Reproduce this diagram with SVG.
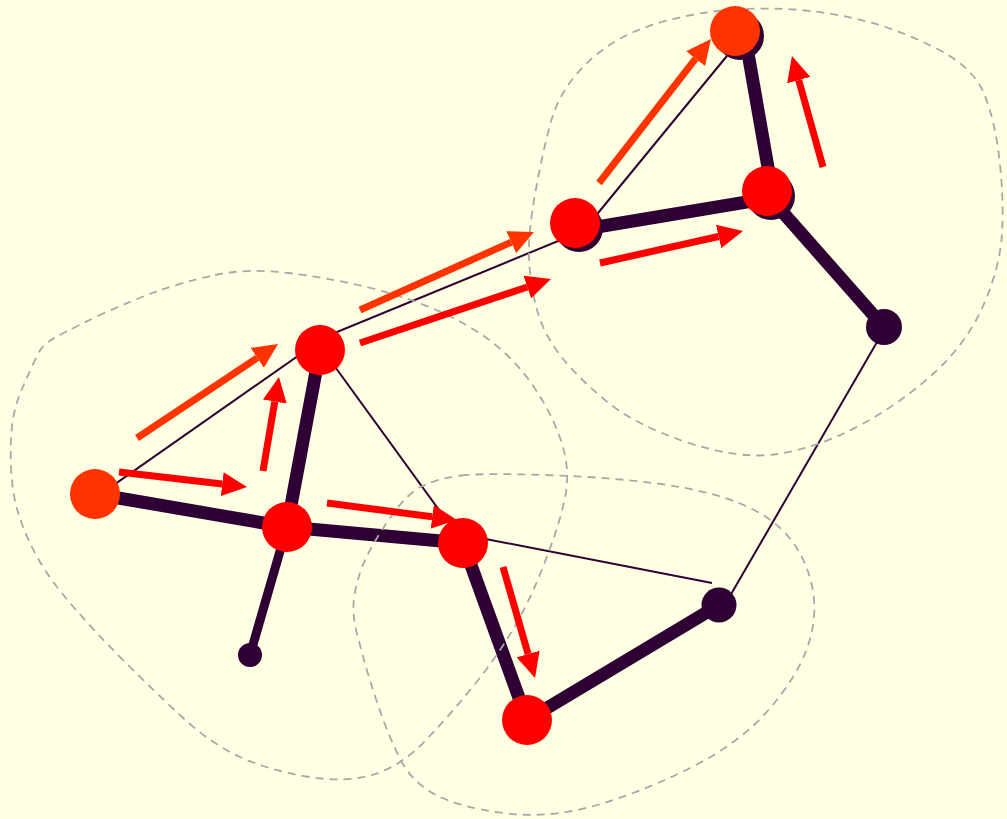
<svg xmlns="http://www.w3.org/2000/svg" width="1007" height="819" viewBox="0 0 1007 819">
<style>
.bg{fill:#ffffe3}
.blob{fill:none;stroke:#a8a8a8;stroke-width:1.8;stroke-dasharray:8 6}
.thin{stroke:#2e0033;stroke-width:2;fill:none}
.thick{stroke:#2e0033;stroke-width:13;fill:none}
.dark{fill:#2e0033}
.red{fill:#ff0000}
.orange{fill:#ff3300}
.ar{stroke:#ff0000;stroke-width:7;fill:none;marker-end:url(#hr)}
.ao{stroke:#ff3300;stroke-width:7;fill:none;marker-end:url(#ho)}
</style>
<defs>
<marker id="hr" markerUnits="userSpaceOnUse" markerWidth="26" markerHeight="24" refX="0" refY="12" orient="auto"><path d="M0,0 L25,12 L0,24 z" fill="#ff0000"/></marker>
<marker id="ho" markerUnits="userSpaceOnUse" markerWidth="26" markerHeight="24" refX="0" refY="12" orient="auto"><path d="M0,0 L25,12 L0,24 z" fill="#ff3300"/></marker>
</defs>
<rect class="bg" x="0" y="0" width="1007" height="819"/>
<g id="connectors">
<line class="thin" x1="100" y1="494.6" x2="320" y2="340.5"/>
<line class="thin" x1="320" y1="339" x2="580" y2="232"/>
<line class="thin" x1="580" y1="235" x2="740" y2="40"/>
<line class="thin" x1="325" y1="353" x2="463" y2="543"/>
<line class="thin" x1="465" y1="535" x2="712" y2="583"/>
<line class="thin" x1="730" y1="596" x2="884" y2="330"/>
<line class="thick" x1="95" y1="494" x2="287" y2="527"/>
<line class="thick" x1="287" y1="527" x2="463" y2="543"/>
<line class="thick" x1="320" y1="350" x2="287" y2="527"/>
<line class="thick" x1="287" y1="527" x2="250" y2="655" style="stroke-width:9"/>
<line class="thick" x1="463" y1="543" x2="527" y2="720"/>
<line class="thick" x1="527" y1="720" x2="719" y2="605"/>
<line class="thick" x1="771" y1="199" x2="884" y2="327"/>
<line class="thick" x1="579" y1="230" x2="771" y2="198"/>
<line class="thick" x1="745" y1="36" x2="773" y2="196"/>
</g>
<g id="regions">
<path class="blob" d="M215,275 Q247,268 288.5,273 Q330,278 368.5,287.5 Q407,297 438.5,311 Q470,325 492.5,342.5 Q515,360 532.5,385 Q550,410 560,437.5 Q570,465 566,492.5 Q561,520 547.5,555 Q535,590 517.5,621.5 Q500,653 475,684 Q450,715 425,741 Q400,767 372,775 Q344,783 306,776.5 Q268,770 239,756.5 Q210,743 181.5,716.5 Q153,690 124.5,661.5 Q96,633 73,606.5 Q50,580 37.5,557.5 Q25,535 18.5,514 Q12,493 11,466.5 Q10,440 12.5,422.5 Q15,405 21.5,390 Q28,375 36,358 Q40,348 48,342 Q58,335 100,315 Q133,300 158,291 Q183,282 215,275 Z"/>
<path class="blob" d="M718.5,11 Q757,7 793.5,9.5 Q830,12 865,21 Q900,30 936.5,48.5 Q973,67 984,93.5 Q995,120 999.5,160 Q1004,200 1002,233.5 Q1000,267 983.5,305 Q967,343 933.5,373.5 Q900,404 858.5,426 Q817,448 778,454 Q740,460 686,442 Q633,424 605,400 Q577,377 560,355 Q543,333 536.5,308 Q530,283 529,258 Q528,233 535.5,191.5 Q543,150 551.5,120 Q560,90 585,65 Q610,40 645,27.5 Q680,15 718.5,11 Z"/>
<path class="blob" d="M461.5,475.5 Q483,473 545,475 Q607,477 657,483.5 Q707,490 740,503.5 Q773,517 790,538.5 Q807,560 812.5,588.5 Q818,617 807.5,647 Q797,677 768.5,710 Q740,743 690,768 Q640,793 593.5,806 Q547,819 503,813 Q459,807 436,795 Q413,783 401.5,761.5 Q390,740 378.5,706.5 Q367,673 359,641 Q351,615 354.5,595 Q358,575 365.5,559 Q373,543 390,518 Q407,493 423.5,485.5 Q440,478 461.5,475.5 Z"/>
</g>
<g id="node-A"><circle class="orange" cx="95" cy="494" r="25"/></g>
<g id="node-B"><circle class="red" cx="320" cy="350" r="25"/></g>
<g id="node-C"><circle class="red" cx="287" cy="527" r="25"/></g>
<g id="node-D"><circle class="red" cx="463" cy="543" r="25"/></g>
<g id="node-E"><circle class="red" cx="527" cy="720" r="25"/></g>
<g id="node-F"><circle class="dark" cx="719" cy="605" r="17.5"/></g>
<g id="node-G"><circle class="dark" cx="884" cy="327" r="18"/></g>
<g id="node-K"><circle class="dark" cx="250" cy="655" r="12"/></g>
<g id="node-I"><circle class="dark" cx="579" cy="228" r="24"/><circle class="red" cx="575" cy="223" r="25"/></g>
<g id="node-H"><circle class="dark" cx="771" cy="196" r="24"/><circle class="red" cx="767" cy="191" r="25"/></g>
<g id="node-J"><circle class="dark" cx="740" cy="36" r="24"/><circle class="orange" cx="735" cy="31" r="25"/></g>
<g id="flows">
<line class="ao" x1="137" y1="438" x2="257.2" y2="357.9"/>
<line class="ar" x1="119" y1="472" x2="222.2" y2="484.1"/>
<line class="ar" x1="263" y1="471" x2="274.8" y2="401.6"/>
<line class="ar" x1="327" y1="503" x2="432.2" y2="516.8"/>
<line class="ao" x1="360" y1="310" x2="511.2" y2="242.2"/>
<line class="ar" x1="360" y1="343" x2="527.3" y2="287"/>
<line class="ao" x1="599" y1="183" x2="695.6" y2="58.7"/>
<line class="ar" x1="600" y1="263" x2="718.6" y2="236.5"/>
<line class="ar" x1="823" y1="167" x2="798.7" y2="80.1"/>
<line class="ar" x1="503" y1="567" x2="528.1" y2="654"/>
</g>
</svg>
